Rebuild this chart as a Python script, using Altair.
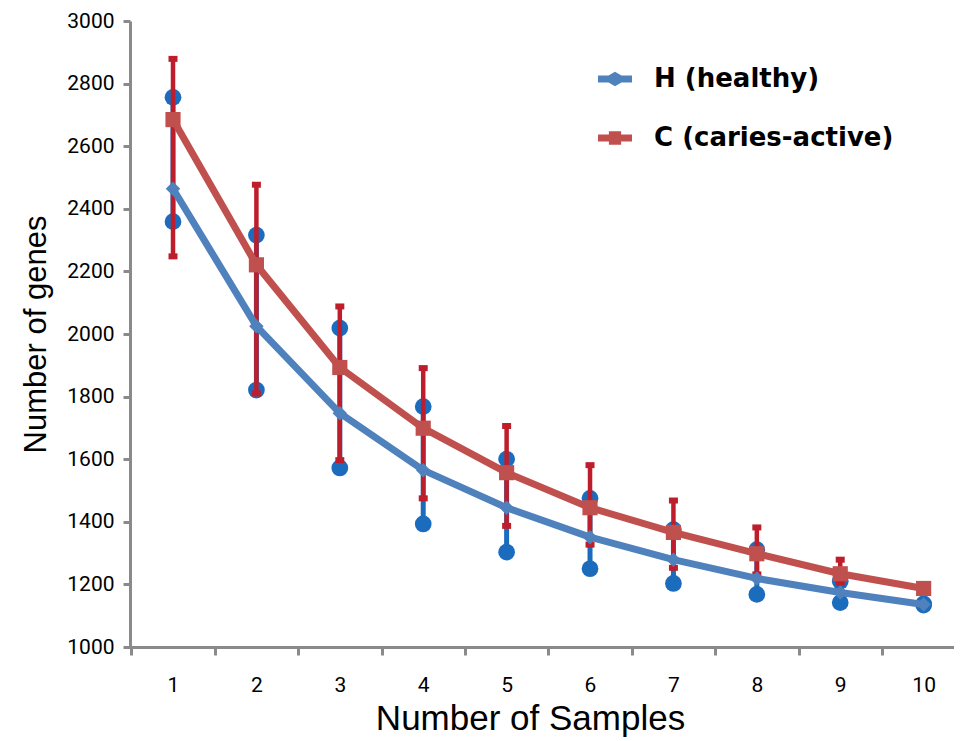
import altair as alt
import pandas as pd

# ---- data ----
samples = [1, 2, 3, 4, 5, 6, 7, 8, 9, 10]
series_names = ["H (healthy)", "C (caries-active)"]

h_mean = [2464, 2025, 1747, 1565, 1445, 1351, 1279, 1219, 1174, 1136]
h_low = [2359, 1821, 1572, 1393, 1303, 1250, 1203, 1168, 1142, 1134]
h_high = [2756, 2316, 2019, 1768, 1600, 1475, 1375, 1311, 1210, 1138]

c_mean = [2685, 2221, 1893, 1699, 1557, 1445, 1366, 1298, 1234, 1187]
c_low = [2248, 1810, 1597, 1475, 1387, 1327, 1253, 1232, 1206, 1185]
c_high = [2879, 2477, 2088, 1891, 1706, 1581, 1468, 1382, 1279, 1190]

y_ticks = [1000, 1200, 1400, 1600, 1800, 2000, 2200, 2400, 2600, 2800, 3000]
x_tick_marks = [0.5, 1.5, 2.5, 3.5, 4.5, 5.5, 6.5, 7.5, 8.5, 9.5]

blue_line = "#4f81bd"
red_line = "#c0504d"
blue_err = "#1b6cbd"
red_err = "#be1e2b"
axis_gray = "#8a8a8a"

h_df = pd.DataFrame({"n": samples, "series": series_names[0], "mean": h_mean, "low": h_low, "high": h_high})
c_df = pd.DataFrame({"n": samples, "series": series_names[1], "mean": c_mean, "low": c_low, "high": c_high})
all_df = pd.concat([h_df, c_df], ignore_index=True)

xscale = alt.Scale(domain=[0.4844, 10.364], nice=False, zero=False)
yscale = alt.Scale(domain=[1000, 3000], nice=False, zero=False)

x_axis = alt.Axis(
    values=x_tick_marks,
    labelExpr="format(datum.value + 0.5, 'd')",
    labelOffset=41.7,
    title="Number of Samples",
    titleFont="Liberation Sans",
    titleFontSize=35,
    titleFontWeight="normal",
    titleColor="black",
    titlePadding=6,
    titleX=400,
    labelFont="Roboto",
    labelFontSize=21,
    labelColor="black",
    labelPadding=19,
    domainColor=axis_gray,
    domainWidth=3,
    tickColor=axis_gray,
    tickWidth=3,
    tickSize=8,
    grid=False,
)
y_axis = alt.Axis(
    values=y_ticks,
    format="d",
    title="Number of genes",
    titleFont="Liberation Sans",
    titleFontSize=31,
    titleFontWeight="normal",
    titleColor="black",
    titlePadding=14,
    labelFont="Roboto",
    labelFontSize=21,
    labelColor="black",
    labelPadding=9,
    domainColor=axis_gray,
    domainWidth=3,
    tickColor=axis_gray,
    tickWidth=3,
    tickSize=7,
    grid=False,
)

X = alt.X("n:Q", scale=xscale, axis=x_axis)
Y = alt.Y("mean:Q", scale=yscale, axis=y_axis)
Ylow = alt.Y("low:Q", scale=yscale, axis=y_axis)
Yhigh = alt.Y("high:Q", scale=yscale, axis=y_axis)

base_h = alt.Chart(h_df)
base_c = alt.Chart(c_df)

# blue error bars with round ends
h_rule = base_h.mark_rule(color=blue_err, strokeWidth=5).encode(x=X, y=Ylow, y2="high:Q")
h_low_pt = base_h.mark_circle(color=blue_err, size=280, opacity=1).encode(x=X, y=Ylow)
h_high_pt = base_h.mark_circle(color=blue_err, size=280, opacity=1).encode(x=X, y=Yhigh)

# red error bars with small caps
c_rule = base_c.mark_rule(color=red_err, strokeWidth=4.5).encode(x=X, y=Ylow, y2="high:Q")
c_low_cap = base_c.mark_tick(color=red_err, orient="horizontal", size=9, thickness=6, opacity=1).encode(x=X, y=Ylow)
c_high_cap = base_c.mark_tick(color=red_err, orient="horizontal", size=9, thickness=6, opacity=1).encode(x=X, y=Yhigh)

h_line = base_h.mark_line(color=blue_line, strokeWidth=7, strokeJoin="round").encode(x=X, y=Y)
c_line = base_c.mark_line(color=red_line, strokeWidth=7, strokeJoin="round").encode(x=X, y=Y)

h_markers = base_h.mark_point(shape="diamond", filled=True, color=blue_line, size=210, opacity=1).encode(x=X, y=Y)
c_markers = base_c.mark_point(shape="square", filled=True, color=red_line, size=230, opacity=1).encode(x=X, y=Y)

blue_sym = "M-1,-0.2 L-0.38,-0.2 L0,-0.42 L0.38,-0.2 L1,-0.2 L1,0.2 L0.38,0.2 L0,0.42 L-0.38,0.2 L-1,0.2 Z"
red_sym = ("M-1,-0.2 L-0.36,-0.2 L-0.36,-0.4 L0.36,-0.4 L0.36,-0.2 L1,-0.2 L1,0.2 "
           "L0.36,0.2 L0.36,0.4 L-0.36,0.4 L-0.36,0.2 L-1,0.2 Z")

legend = alt.Legend(
    title=None,
    orient="none",
    legendX=468,
    legendY=41,
    padding=0,
    symbolSize=1156,
    symbolStrokeWidth=0,
    symbolOpacity=1,
    labelFont="DejaVu Sans",
    labelFontSize=26,
    labelFontWeight="bold",
    labelColor="black",
    labelOffset=22,
    rowPadding=29,
    labelLimit=400,
)

# legend-only layer (no rows drawn; entries come from the explicit domain)
legend_layer = alt.Chart(all_df).transform_filter("false").mark_point(filled=True, opacity=1).encode(
    x=X,
    y=Y,
    color=alt.Color("series:N", scale=alt.Scale(domain=series_names, range=[blue_line, red_line]), legend=legend),
    shape=alt.Shape("series:N", scale=alt.Scale(domain=series_names, range=[blue_sym, red_sym]), legend=legend),
)

chart = alt.layer(
    h_rule, h_low_pt, h_high_pt,
    c_rule, c_low_cap, c_high_cap,
    h_line, h_markers,
    c_line, c_markers,
    legend_layer,
).properties(
    width=824,
    height=626,
    autosize=alt.AutoSizeParams(type="none"),
    padding={"left": 122, "top": 13, "right": 0, "bottom": 92},
    background="white",
).configure_view(stroke=None)

chart.save("out.html", embed_options={"renderer": "svg", "actions": False})
